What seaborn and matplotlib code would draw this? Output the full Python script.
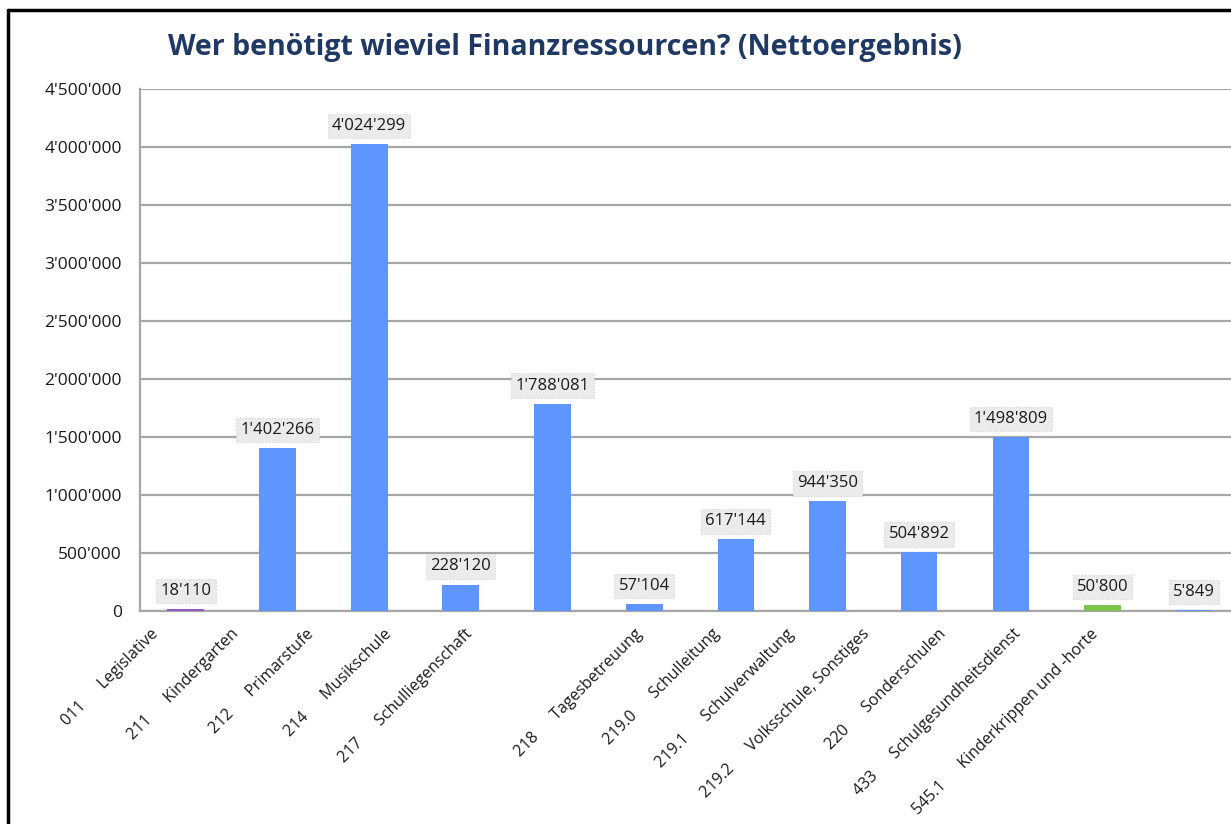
import matplotlib
matplotlib.use("Agg")
import matplotlib.pyplot as plt
import matplotlib.transforms as mtransforms
from matplotlib.lines import Line2D
from matplotlib.ticker import FuncFormatter
import pandas as pd
import seaborn as sns

# data
codes = ["011", "211", "212", "214", "217", "218",
         "219.0", "219.1", "219.2", "220", "433", "545.1"]
names = ["Legislative", "Kindergarten", "Primarstufe", "Musikschule",
         "Schulliegenschaft", "Tagesbetreuung", "Schulleitung", "Schulverwaltung",
         "Volksschule, Sonstiges", "Sonderschulen", "Schulgesundheitsdienst",
         "Kinderkrippen und -horte"]
values = [18110, 1402266, 4024299, 228120, 1788081, 57104,
          617144, 944350, 504892, 1498809, 50800, 5849]
bar_colors = ["#8E5BBF", "#5F95FF", "#5F95FF", "#5F95FF", "#5F95FF", "#5F95FF",
              "#5F95FF", "#5F95FF", "#5F95FF", "#5F95FF", "#7DC44E", "#5F95FF"]

# horizontal pixel shift of each rotated category label (as laid out in the original)
label_shift_px = [-35, -47, -63, -77, -88, -10, -24, -42, -58, -73, -90, -104]

labels = [f"{c}      {n}" for c, n in zip(codes, names)]
df = pd.DataFrame({"label": labels, "value": values})


def swiss(v):
    return f"{int(round(v)):,}".replace(",", "'")


sns.set_style("white")
plt.rcParams["font.family"] = ["Open Sans", "DejaVu Sans"]

fig = plt.figure(figsize=(12.31, 8.24), dpi=100)
ax = fig.add_axes([140 / 1231, 1 - 611 / 824, 1100 / 1231, 522 / 824])

sns.barplot(data=df, x="label", y="value", hue="label", palette=bar_colors,
            width=0.4, legend=False, ax=ax, saturation=1, linewidth=0)
for p in ax.patches:
    p.set_zorder(3)
    p.set_clip_on(False)

ax.set_xlim(-0.5, 11.5)
ax.set_ylim(0, 4500000)
ax.set_yticks(range(0, 4500001, 500000))
ax.yaxis.set_major_formatter(FuncFormatter(lambda v, p: swiss(v)))
ax.grid(axis="y", color="#A6A6A6", linewidth=1.6)
ax.set_axisbelow(True)
ax.set_xlabel("")
ax.set_ylabel("")
for side in ["top", "right"]:
    ax.spines[side].set_visible(False)
for side in ["left", "bottom"]:
    ax.spines[side].set_color("#A6A6A6")
    ax.spines[side].set_linewidth(1.6)
    ax.spines[side].set_zorder(1)
ax.tick_params(axis="y", length=0, pad=13, labelsize=12.5, labelcolor="#1a1a1a")
ax.tick_params(axis="x", length=0, pad=0, labelsize=11.5, labelcolor="#1a1a1a")
for t, dx in zip(ax.get_xticklabels(), label_shift_px):
    t.set_rotation(45)
    t.set_ha("right")
    t.set_va("top")
    t.set_rotation_mode("anchor")
    shift = mtransforms.ScaledTranslation(dx / 100, -15 / 100, fig.dpi_scale_trans)
    t.set_transform(t.get_transform() + shift)

# value labels above the bars
for i, v in enumerate(values):
    ax.annotate(swiss(v), (i, v), xytext=(0, 13), textcoords="offset points",
                ha="center", va="center", fontsize=12, color="#1a1a1a",
                bbox=dict(boxstyle="square,pad=0.25", facecolor="#EBEBEB",
                          edgecolor="#D5D5D5", linewidth=0.8, linestyle=":"))

fig.text(565 / 1231, 1 - 47 / 824, "Wer benötigt wieviel Finanzressourcen? (Nettoergebnis)",
         ha="center", va="center", fontsize=20.5, fontweight="bold", color="#1F3864")

# frame lines of the original slide
fig.add_artist(Line2D([8 / 1231, 8 / 1231], [0, 1 - 10 / 824], color="black", linewidth=2.5))
fig.add_artist(Line2D([8 / 1231, 1], [1 - 10 / 824, 1 - 10 / 824], color="black", linewidth=2.5))

fig.savefig("out.png", dpi=100)
